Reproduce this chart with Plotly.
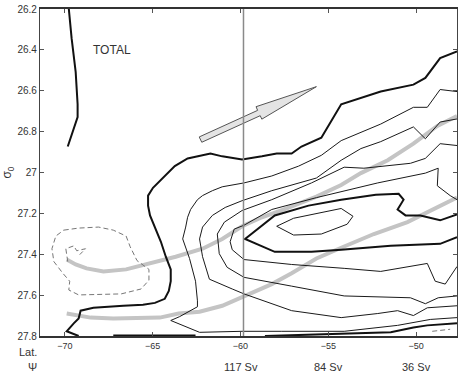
import plotly.graph_objects as go

# ---------------- data (lat, sigma0) ----------------
thick_left_lat = [-69.77, -69.61, -69.38, -69.27, -69.27, -69.49, -69.83]
thick_left_sig = [26.20, 26.344, 26.508, 26.666, 26.729, 26.787, 26.873]

thick_outer_lat = [-69.21, -69.89, -69.49, -69.21, -69.10, -68.37, -66.67, -65.55, -64.87, -64.31,
                   -64.08, -63.97, -63.97, -64.25, -64.53, -64.87, -65.15, -65.26, -65.26, -64.98,
                   -64.59, -64.14, -63.74, -63.01, -61.71, -61.04, -59.91, -58.78, -57.94, -57.09,
                   -56.53, -55.40, -54.27, -52.02, -50.16, -49.48, -48.64, -47.68]
thick_outer_sig = [27.80, 27.777, 27.738, 27.714, 27.676, 27.662, 27.652, 27.647, 27.638, 27.618,
                   27.580, 27.532, 27.474, 27.412, 27.339, 27.267, 27.210, 27.162, 27.113, 27.075,
                   27.041, 27.003, 26.969, 26.931, 26.907, 26.921, 26.936, 26.921, 26.907, 26.907,
                   26.873, 26.830, 26.666, 26.604, 26.570, 26.537, 26.440, 26.407]

thick_bottom1_lat = [-67.24, -62.56]
thick_bottom1_sig = [27.797, 27.797]
thick_bottom2_lat = [-58.61, -54.27, -51.45, -50.16, -49.37, -47.68]
thick_bottom2_sig = [27.80, 27.791, 27.782, 27.758, 27.748, 27.738]

thick_inner_lat = [-47.68, -48.64, -49.76, -50.61, -51.06, -50.72, -51.00, -52.30, -54.27, -56.13,
                   -58.05, -59.74, -58.05, -55.96, -54.27, -51.45, -48.64, -47.68]
thick_inner_sig = [27.205, 27.234, 27.210, 27.210, 27.181, 27.133, 27.104, 27.109, 27.133, 27.162,
                   27.210, 27.325, 27.388, 27.388, 27.378, 27.359, 27.349, 27.316]

core_lat = [-57.94, -56.98, -54.27, -53.60, -53.93, -55.40, -56.98, -57.94]
core_sig = [27.263, 27.224, 27.176, 27.214, 27.253, 27.301, 27.306, 27.263]

a_lat = [-47.68, -48.64, -49.37, -50.16, -52.02, -54.27, -55.40, -56.70, -58.22, -59.80, -61.04,
         -61.60, -62.16, -62.45, -62.84, -63.01, -63.12, -63.29,
         -62.90, -62.56, -62.45, -62.45, -63.46, -63.97, -62.33, -59.91, -57.65, -54.10, -51.06,
         -50.16, -49.20, -47.68]
a_sig = [26.604, 26.594, 26.681, 26.681, 26.763, 26.844, 26.916, 26.969, 27.017, 27.051, 27.070,
         27.089, 27.113, 27.133, 27.181, 27.219, 27.267, 27.325,
         27.421, 27.532, 27.628, 27.657, 27.705, 27.724, 27.782, 27.777, 27.777, 27.777, 27.748,
         27.734, 27.719, 27.710]

b_lat = [-47.68, -48.64, -49.48, -50.16, -52.02, -53.15, -54.27, -55.68, -58.22, -58.78, -59.91,
         -60.87, -61.60, -62.16, -62.33,
         -62.16, -61.77, -60.47, -59.80, -57.09, -54.27, -52.19, -51.06, -50.16, -49.37, -47.68]
b_sig = [26.738, 26.753, 26.835, 26.777, 26.849, 26.883, 26.940, 27.027, 27.089, 27.104, 27.138,
         27.171, 27.210, 27.267, 27.325,
         27.412, 27.522, 27.570, 27.594, 27.676, 27.710, 27.690, 27.676, 27.700, 27.662, 27.652]

c_lat = [-47.68, -48.64, -49.48, -50.33, -52.98, -54.10, -55.96, -58.22, -59.91, -60.92, -61.32,
         -61.21, -60.76, -59.80, -57.09, -54.10, -50.33, -49.48, -48.75, -47.68]
c_sig = [26.868, 26.859, 26.931, 26.955, 26.979, 26.974, 27.051, 27.133, 27.186, 27.243, 27.301,
         27.397, 27.464, 27.513, 27.556, 27.604, 27.613, 27.642, 27.613, 27.604]

d_lat = [-47.68, -48.07, -48.80, -48.75, -49.48, -52.19, -55.68, -58.22, -59.80, -60.36, -60.59,
         -60.47, -59.80, -57.09, -54.10, -52.02, -49.37, -48.92, -48.35, -47.90, -47.68]
d_sig = [27.133, 27.113, 27.065, 26.979, 27.003, 27.051, 27.123, 27.181, 27.258, 27.277, 27.339,
         27.378, 27.426, 27.450, 27.469, 27.484, 27.445, 27.532, 27.546, 27.484, 27.460]

neg_outer_lat = [-70.06, -69.21, -68.08, -67.24, -66.51, -66.28, -65.89, -65.21, -65.21, -65.66,
                 -66.79, -69.21, -69.77, -69.72, -70.11, -70.62, -70.73, -70.51, -70.06]
neg_outer_sig = [27.282, 27.272, 27.267, 27.282, 27.311, 27.363, 27.431, 27.474, 27.527, 27.570,
                 27.594, 27.599, 27.575, 27.532, 27.493, 27.436, 27.373, 27.311, 27.282]
neg_inner_lat = [-69.83, -69.94, -69.49, -69.32, -68.82, -69.15]
neg_inner_sig = [27.436, 27.373, 27.359, 27.383, 27.373, 27.402]
neg_small_lat = [-49.09, -48.58, -48.07]
neg_small_sig = [27.777, 27.772, 27.767]

grey1_lat = [-69.89, -69.38, -68.76, -67.80, -66.51, -65.15, -63.69, -62.16, -61.04, -59.91,
             -58.78, -57.37, -55.68, -54.27, -53.15, -51.62, -50.16, -48.80, -47.68]
grey1_sig = [27.426, 27.450, 27.469, 27.484, 27.474, 27.445, 27.412, 27.373, 27.325, 27.263,
             27.219, 27.176, 27.118, 27.061, 27.003, 26.940, 26.859, 26.772, 26.724]
grey2_lat = [-69.89, -68.53, -67.24, -65.77, -64.59, -63.52, -62.33, -61.04, -59.74, -58.22,
             -57.09, -55.68, -54.27, -52.41, -50.50, -48.64, -47.68]
grey2_sig = [27.690, 27.710, 27.714, 27.714, 27.710, 27.690, 27.681, 27.652, 27.604, 27.546,
             27.493, 27.421, 27.368, 27.301, 27.243, 27.166, 27.123]

arrow_lat = [-62.35, -59.025, -59.115, -55.68, -58.788, -58.878, -62.204, -62.35]
arrow_sig = [26.826, 26.696, 26.678, 26.580, 26.739, 26.722, 26.852, 26.826]

section_lat = -59.83
x_ticks = [-70, -65, -60, -55, -50]
y_ticks = [26.2, 26.4, 26.6, 26.8, 27.0, 27.2, 27.4, 27.6, 27.8]
y_tick_text = ["26.2", "26.4", "26.6", "26.8", "27", "27.2", "27.4", "27.6", "27.8"]
psi_lat = [-60, -55, -50]
psi_text = ["117 Sv", "84 Sv", "36 Sv"]

# ---------------- figure ----------------
fig = go.Figure()

GREY = "#c4c4c4"
for lx, ly in [(grey1_lat, grey1_sig), (grey2_lat, grey2_sig)]:
    fig.add_trace(go.Scatter(x=lx, y=ly, mode="lines",
                             line=dict(color=GREY, width=4), hoverinfo="skip"))

for lx, ly in [(neg_outer_lat, neg_outer_sig), (neg_inner_lat, neg_inner_sig),
               (neg_small_lat, neg_small_sig)]:
    fig.add_trace(go.Scatter(x=lx, y=ly, mode="lines",
                             line=dict(color="#777777", width=1, dash="5px,3px")))

for lx, ly in [(a_lat, a_sig), (b_lat, b_sig), (c_lat, c_sig), (d_lat, d_sig), (core_lat, core_sig)]:
    fig.add_trace(go.Scatter(x=lx, y=ly, mode="lines", line=dict(color="#1a1a1a", width=1)))

for lx, ly in [(thick_left_lat, thick_left_sig), (thick_outer_lat, thick_outer_sig),
               (thick_bottom1_lat, thick_bottom1_sig), (thick_bottom2_lat, thick_bottom2_sig),
               (thick_inner_lat, thick_inner_sig)]:
    fig.add_trace(go.Scatter(x=lx, y=ly, mode="lines", line=dict(color="#111111", width=2)))

fig.add_trace(go.Scatter(x=arrow_lat, y=arrow_sig, mode="lines", fill="toself",
                         fillcolor="#e4e4e4", line=dict(color="#555555", width=1)))

fig.add_shape(type="line", x0=section_lat, x1=section_lat, y0=0, y1=1, xref="x", yref="paper",
              line=dict(color="#8a8a8a", width=1.5))

FONT = "Liberation Sans, Arial, sans-serif"
fig.add_annotation(x=-67.29, y=26.402, text="TOTAL", showarrow=False,
                   font=dict(family=FONT, size=12, color="#333333"))

fig.add_annotation(x=-0.002, y=-0.048, xref="paper", yref="paper", text="Lat.",
                   showarrow=False, xanchor="right", yanchor="middle",
                   font=dict(family=FONT, size=11, color="#333333"))
fig.add_annotation(x=-0.002, y=-0.096, xref="paper", yref="paper", text="Ψ",
                   showarrow=False, xanchor="right", yanchor="middle",
                   font=dict(family=FONT, size=11, color="#333333"))
for lx, txt in zip(psi_lat, psi_text):
    fig.add_annotation(x=lx, y=-0.096, xref="x", yref="paper", text=txt,
                       showarrow=False, xanchor="center", yanchor="middle",
                       font=dict(family=FONT, size=11, color="#333333"))

fig.update_layout(
    width=461, height=378,
    margin=dict(l=36, r=4, t=3, b=42),
    paper_bgcolor="white", plot_bgcolor="white",
    showlegend=False,
    font=dict(family=FONT, size=10, color="#333333"),
    xaxis=dict(range=[-71.41, -47.68], tickvals=x_ticks, ticks="inside", ticklen=4,
               tickcolor="#555555", showgrid=False, zeroline=False, showline=True,
               linecolor="#333333", linewidth=1.5, mirror="ticks",
               tickfont=dict(size=9, color="#333333")),
    yaxis=dict(range=[27.8, 26.2], tickvals=y_ticks, ticktext=y_tick_text, ticks="inside",
               ticklen=4, tickcolor="#555555", showgrid=False, zeroline=False, showline=True,
               linecolor="#444444", linewidth=1.2, mirror="ticks",
               ticklabeloverflow="allow",
               tickfont=dict(size=10, color="#333333"),
               title=dict(text="σ<sub>0</sub>", standoff=6,
                          font=dict(size=12, color="#333333"))),
)

fig.write_html("out.html")
